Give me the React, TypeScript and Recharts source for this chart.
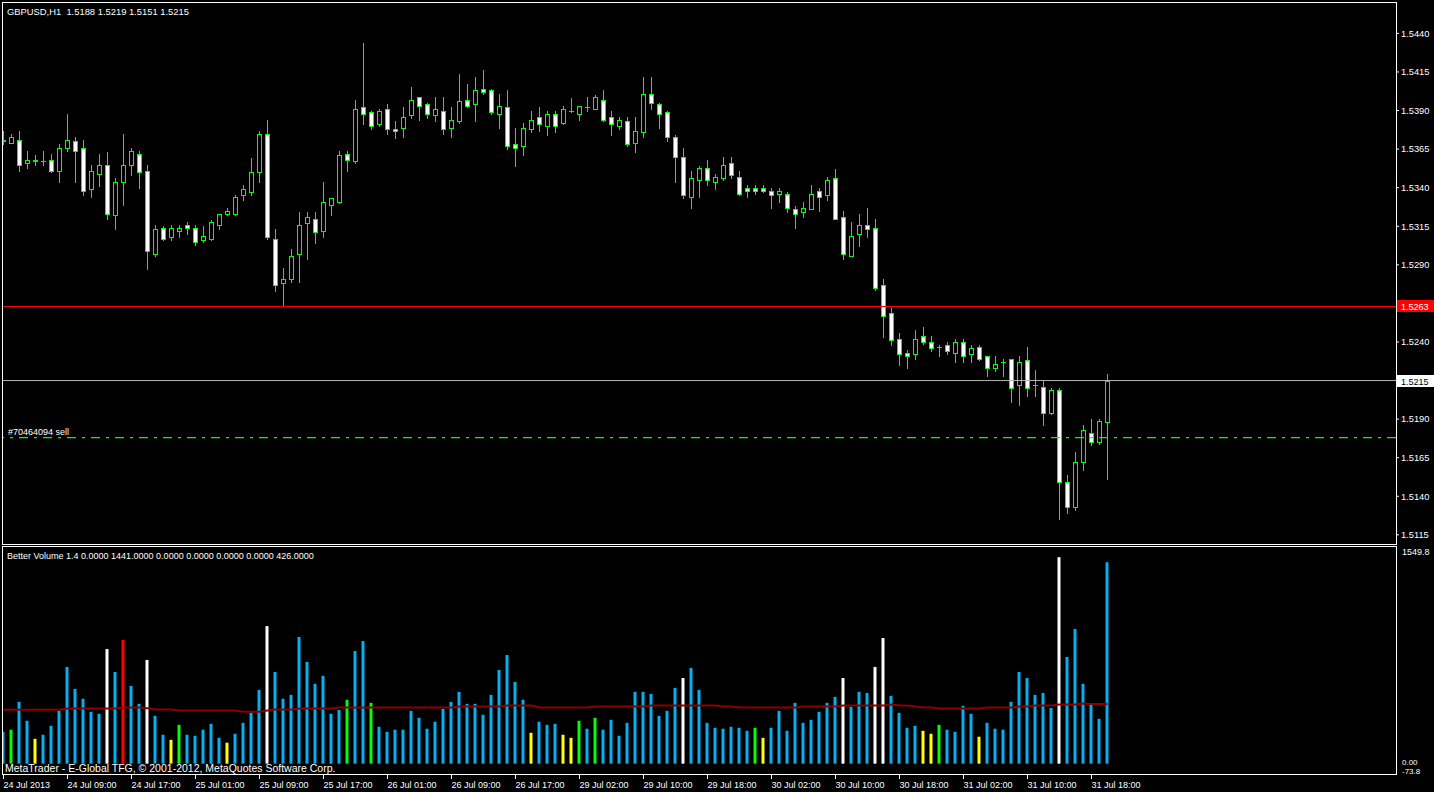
import React from 'react';
import { ComposedChart, Bar, Line, XAxis, YAxis, ReferenceLine, Cell } from 'recharts';

// ---------- DATA ----------
const opens = [
  1.5371, 1.5369, 1.5371, 1.5356, 1.5358, 1.5357, 1.5358, 1.5351, 1.5366, 1.5370,
  1.5366, 1.5339, 1.5349, 1.5355, 1.5322, 1.5344, 1.5355, 1.5362, 1.5351, 1.5297,
  1.5314, 1.5308, 1.5312, 1.5316, 1.5314, 1.5306, 1.5307, 1.5316, 1.5323, 1.5323,
  1.5335, 1.5337, 1.5350, 1.5375, 1.5307, 1.5278, 1.5281, 1.5297, 1.5317, 1.5320,
  1.5312, 1.5329, 1.5331, 1.5362, 1.5357, 1.5392, 1.5389, 1.5381, 1.5391, 1.5378,
  1.5379, 1.5387, 1.5399, 1.5394, 1.5387, 1.5390, 1.5379, 1.5383, 1.5397, 1.5394,
  1.5404, 1.5403, 1.5388, 1.5392, 1.5368, 1.5367, 1.5378, 1.5386, 1.5380, 1.5388,
  1.5382, 1.5390, 1.5388, 1.5392, 1.5391, 1.5397, 1.5386, 1.5380, 1.5383, 1.5369,
  1.5376, 1.5401, 1.5394, 1.5389, 1.5373, 1.5360, 1.5334, 1.5345, 1.5353, 1.5344,
  1.5346, 1.5356, 1.5347, 1.5340, 1.5340, 1.5340, 1.5338, 1.5336, 1.5336, 1.5326,
  1.5324, 1.5326, 1.5338, 1.5335, 1.5346, 1.5321, 1.5296, 1.5310, 1.5316, 1.5314,
  1.5277, 1.5259, 1.5242, 1.5233, 1.5232, 1.5244, 1.5240, 1.5237, 1.5238, 1.5233,
  1.5240, 1.5232, 1.5237, 1.5231, 1.5223, 1.5227, 1.5229, 1.5212, 1.5228, 1.5212,
  1.5211, 1.5194, 1.5209, 1.5149, 1.5133, 1.5162, 1.5181, 1.5175, 1.5188,
];
const highs = [
  1.5377, 1.5375, 1.5377, 1.5364, 1.5361, 1.5364, 1.5362, 1.5368, 1.5388, 1.5373,
  1.5371, 1.5355, 1.5362, 1.5363, 1.5346, 1.5375, 1.5366, 1.5364, 1.5355, 1.5316,
  1.5315, 1.5316, 1.5316, 1.5318, 1.5316, 1.5315, 1.5319, 1.5323, 1.5327, 1.5335,
  1.5342, 1.5359, 1.5377, 1.5384, 1.5313, 1.5288, 1.5300, 1.5324, 1.5324, 1.5324,
  1.5344, 1.5333, 1.5364, 1.5364, 1.5397, 1.5434, 1.5390, 1.5391, 1.5394, 1.5383,
  1.5392, 1.5405, 1.5399, 1.5395, 1.5399, 1.5399, 1.5392, 1.5414, 1.5407, 1.5412,
  1.5416, 1.5404, 1.5401, 1.5403, 1.5379, 1.5382, 1.5390, 1.5392, 1.5390, 1.5390,
  1.5393, 1.5398, 1.5393, 1.5399, 1.5400, 1.5403, 1.5390, 1.5386, 1.5386, 1.5386,
  1.5412, 1.5412, 1.5395, 1.5390, 1.5374, 1.5366, 1.5351, 1.5354, 1.5358, 1.5349,
  1.5360, 1.5360, 1.5351, 1.5342, 1.5342, 1.5342, 1.5340, 1.5340, 1.5337, 1.5328,
  1.5331, 1.5342, 1.5340, 1.5347, 1.5352, 1.5325, 1.5318, 1.5323, 1.5327, 1.5320,
  1.5281, 1.5262, 1.5246, 1.5235, 1.5248, 1.5250, 1.5244, 1.5238, 1.5240, 1.5242,
  1.5242, 1.5238, 1.5238, 1.5231, 1.5231, 1.5229, 1.5229, 1.5231, 1.5237, 1.5222,
  1.5215, 1.5210, 1.5210, 1.5154, 1.5169, 1.5186, 1.5190, 1.5190, 1.5219,
];
const lows = [
  1.5368, 1.5369, 1.5351, 1.5353, 1.5355, 1.5355, 1.5350, 1.5344, 1.5364, 1.5344,
  1.5335, 1.5334, 1.5341, 1.5320, 1.5313, 1.5329, 1.5348, 1.5340, 1.5287, 1.5296,
  1.5306, 1.5306, 1.5308, 1.5310, 1.5303, 1.5305, 1.5306, 1.5313, 1.5322, 1.5322,
  1.5332, 1.5335, 1.5344, 1.5307, 1.5273, 1.5263, 1.5279, 1.5279, 1.5294, 1.5304,
  1.5308, 1.5322, 1.5330, 1.5351, 1.5356, 1.5381, 1.5378, 1.5380, 1.5375, 1.5372,
  1.5373, 1.5385, 1.5384, 1.5385, 1.5383, 1.5375, 1.5373, 1.5382, 1.5392, 1.5383,
  1.5401, 1.5388, 1.5379, 1.5365, 1.5354, 1.5361, 1.5376, 1.5377, 1.5374, 1.5376,
  1.5381, 1.5389, 1.5384, 1.5390, 1.5391, 1.5383, 1.5374, 1.5378, 1.5367, 1.5363,
  1.5373, 1.5391, 1.5379, 1.5370, 1.5344, 1.5333, 1.5327, 1.5334, 1.5342, 1.5339,
  1.5345, 1.5346, 1.5335, 1.5334, 1.5336, 1.5337, 1.5327, 1.5331, 1.5324, 1.5314,
  1.5321, 1.5326, 1.5325, 1.5332, 1.5320, 1.5294, 1.5296, 1.5302, 1.5308, 1.5274,
  1.5243, 1.5238, 1.5225, 1.5223, 1.5229, 1.5239, 1.5234, 1.5231, 1.5232, 1.5227,
  1.5227, 1.5227, 1.5228, 1.5218, 1.5221, 1.5218, 1.5201, 1.5199, 1.5205, 1.5205,
  1.5186, 1.5193, 1.5125, 1.5129, 1.5131, 1.5157, 1.5173, 1.5174, 1.5151,
];
const closes = [
  1.5370, 1.5373, 1.5355, 1.5358, 1.5357, 1.5357, 1.5351, 1.5366, 1.5371, 1.5364,
  1.5338, 1.5351, 1.5355, 1.5323, 1.5344, 1.5355, 1.5364, 1.5350, 1.5299, 1.5313,
  1.5307, 1.5314, 1.5314, 1.5314, 1.5305, 1.5309, 1.5318, 1.5323, 1.5325, 1.5334,
  1.5339, 1.5350, 1.5375, 1.5308, 1.5277, 1.5281, 1.5296, 1.5316, 1.5321, 1.5311,
  1.5331, 1.5333, 1.5361, 1.5358, 1.5391, 1.5388, 1.5380, 1.5390, 1.5378, 1.5377,
  1.5386, 1.5397, 1.5393, 1.5388, 1.5391, 1.5378, 1.5384, 1.5396, 1.5393, 1.5403,
  1.5402, 1.5389, 1.5393, 1.5367, 1.5366, 1.5379, 1.5384, 1.5381, 1.5388, 1.5380,
  1.5391, 1.5390, 1.5393, 1.5392, 1.5399, 1.5384, 1.5381, 1.5384, 1.5368, 1.5377,
  1.5401, 1.5395, 1.5388, 1.5373, 1.5360, 1.5335, 1.5346, 1.5353, 1.5345, 1.5347,
  1.5355, 1.5348, 1.5336, 1.5338, 1.5338, 1.5338, 1.5335, 1.5338, 1.5327, 1.5323,
  1.5327, 1.5336, 1.5334, 1.5345, 1.5320, 1.5297, 1.5309, 1.5316, 1.5313, 1.5275,
  1.5257, 1.5241, 1.5232, 1.5231, 1.5242, 1.5240, 1.5236, 1.5237, 1.5234, 1.5240,
  1.5231, 1.5236, 1.5229, 1.5223, 1.5226, 1.5227, 1.5210, 1.5227, 1.5210, 1.5212,
  1.5194, 1.5209, 1.5149, 1.5133, 1.5162, 1.5183, 1.5175, 1.5189, 1.5215,
];
const volumes = [
  228, 243, 442, 307, 178, 207, 271, 378, 692, 535,
  464, 371, 357, 820, 656, 885, 556, 428, 742, 342,
  207, 171, 278, 207, 200, 243, 285, 185, 150, 214,
  292, 364, 528, 984, 656, 464, 492, 906, 728, 571,
  628, 357, 385, 457, 806, 877, 435, 264, 228, 243,
  243, 378, 328, 250, 300, 392, 442, 514, 428, 428,
  350, 492, 670, 777, 585, 457, 221, 300, 278, 285,
  207, 185, 307, 250, 328, 243, 314, 200, 292, 514,
  514, 499, 342, 378, 542, 613, 685, 528, 292, 257,
  250, 264, 257, 235, 257, 185, 257, 378, 235, 435,
  292, 314, 371, 435, 478, 613, 407, 514, 506, 692,
  899, 485, 364, 257, 271, 235, 214, 278, 243, 228,
  414, 357, 193, 292, 250, 243, 442, 656, 613, 492,
  506, 399, 1477, 763, 963, 571, 428, 321, 1441,
];
// n = neutral, l = low volume, c = churn, u = climax up, d = climax down
const volumeKinds = [
  'n', 'c', 'n', 'n', 'l', 'n', 'n', 'n', 'n', 'n',
  'n', 'n', 'n', 'd', 'n', 'u', 'n', 'n', 'd', 'n',
  'n', 'l', 'c', 'n', 'n', 'n', 'n', 'n', 'l', 'n',
  'n', 'n', 'n', 'd', 'n', 'n', 'n', 'n', 'n', 'n',
  'n', 'n', 'n', 'c', 'n', 'n', 'c', 'n', 'n', 'n',
  'n', 'n', 'n', 'n', 'n', 'n', 'n', 'n', 'n', 'n',
  'n', 'n', 'n', 'n', 'n', 'n', 'l', 'n', 'n', 'n',
  'l', 'l', 'c', 'n', 'c', 'n', 'n', 'n', 'n', 'n',
  'n', 'n', 'n', 'n', 'n', 'd', 'n', 'n', 'n', 'n',
  'n', 'n', 'n', 'n', 'c', 'l', 'n', 'n', 'n', 'n',
  'n', 'n', 'n', 'n', 'n', 'd', 'n', 'n', 'n', 'd',
  'd', 'n', 'n', 'n', 'n', 'l', 'l', 'c', 'n', 'n',
  'n', 'n', 'l', 'n', 'n', 'n', 'n', 'n', 'n', 'n',
  'n', 'n', 'd', 'n', 'n', 'n', 'n', 'n', 'n',
];
const volumeMA = [
  385, 385, 385, 385, 385, 385, 385, 385, 394, 394,
  394, 394, 394, 394, 394, 402, 402, 402, 397, 387,
  387, 387, 380, 380, 380, 380, 380, 380, 380, 380,
  371, 371, 371, 380, 387, 387, 387, 394, 394, 394,
  394, 394, 402, 402, 402, 402, 402, 402, 402, 402,
  402, 402, 402, 402, 402, 402, 402, 409, 409, 409,
  409, 409, 409, 416, 416, 416, 416, 402, 402, 402,
  402, 402, 402, 402, 409, 409, 409, 409, 409, 409,
  409, 416, 416, 416, 416, 416, 416, 416, 416, 416,
  409, 409, 402, 402, 402, 402, 402, 402, 402, 402,
  409, 409, 409, 409, 409, 416, 416, 416, 416, 416,
  416, 423, 416, 416, 409, 402, 402, 394, 394, 394,
  394, 394, 394, 402, 402, 402, 402, 409, 409, 416,
  416, 416, 423, 423, 423, 430, 426, 426, 426,
];
const timeTickIndex = [0, 8, 16, 24, 32, 40, 48, 56, 64, 72, 80, 88, 96, 104, 112, 120, 128, 136];
const timeTickLabels = [
  '24 Jul 2013', '24 Jul 09:00', '24 Jul 17:00', '25 Jul 01:00', '25 Jul 09:00', '25 Jul 17:00',
  '26 Jul 01:00', '26 Jul 09:00', '26 Jul 17:00', '29 Jul 02:00', '29 Jul 10:00', '29 Jul 18:00',
  '30 Jul 02:00', '30 Jul 10:00', '30 Jul 18:00', '31 Jul 02:00', '31 Jul 10:00', '31 Jul 18:00',
];
// 1.5265 and 1.5215 are covered by the level / bid price tags
const priceTicks = [1.5115, 1.514, 1.5165, 1.519, 1.524, 1.529, 1.5315, 1.534, 1.5365, 1.539, 1.5415, 1.544];
const volumeTicks = [1549.8, 0, -73.8];
const priceDomain = [1.51097, 1.54597];
const volumeDomain = [-73.8, 1549.8];
const slotDomain = [-0.0625, 174.0625];
const symbolTitle = 'GBPUSD,H1  1.5188 1.5219 1.5151 1.5215';
const indicatorTitle = 'Better Volume 1.4 0.0000 1441.0000 0.0000 0.0000 0.0000 0.0000 426.0000';
const copyright = 'MetaTrader - E-Global TFG, \u00A9 2001-2012, MetaQuotes Software Corp.';
const levelPrice = 1.5263;
const bidPrice = 1.5215;
const orderPrice = 1.5178;
const orderLabel = '#70464094 sell';

// ---------- STYLE ----------
const FONT = '"Liberation Sans", Arial, sans-serif';
const CANDLE_LINE = '#00ff00';
const kindColors: Record<string, string> = {
  n: '#00b0f0',
  l: '#ffff00',
  c: '#00ff00',
  u: '#ff0000',
  d: '#ffffff',
};

const rows = opens.map((open, i) => ({
  i,
  open,
  high: highs[i],
  low: lows[i],
  close: closes[i],
  range: [lows[i], highs[i]],
  vol: volumes[i],
  ma: volumeMA[i],
  kind: volumeKinds[i],
}));

function CandleShape(props: any) {
  const { x, y, width, height, payload } = props;
  if (!payload || x == null || y == null) return null;
  const { open, high, low, close } = payload;
  const cx = Math.floor(x + width / 2) + 0.5;
  const top = Math.min(y, y + height);
  const span = Math.abs(height);
  const k = high === low ? 0 : span / (high - low);
  const yO = top + (high - open) * k;
  const yC = top + (high - close) * k;
  const b1 = Math.round(Math.min(yO, yC)) + 0.5;
  const b2 = Math.round(Math.max(yO, yC)) + 0.5;
  const bear = close < open;
  return (
    <g>
      <line x1={cx} x2={cx} y1={Math.round(top)} y2={Math.round(top + span) + 1} stroke={CANDLE_LINE} strokeWidth={1} />
      {b2 - b1 < 1 ? (
        <line x1={cx - 2.5} x2={cx + 2.5} y1={b1} y2={b1} stroke={CANDLE_LINE} strokeWidth={1} />
      ) : (
        <rect x={cx - 2} y={b1} width={4} height={b2 - b1} fill={bear ? '#ffffff' : '#000000'} stroke={CANDLE_LINE} strokeWidth={1} />
      )}
    </g>
  );
}

function PriceTag(props: any) {
  const vb = props.viewBox || {};
  const x = (vb.x || 0) + (vb.width || 0) + 1;
  const y = vb.y || 0;
  return (
    <g>
      <rect x={x} y={Math.round(y) - 6} width={37} height={12} fill={props.bg} />
      <text x={x + 4} y={Math.round(y) + 3.5} fill={props.fg} fontSize={9} fontFamily={FONT}>
        {props.text}
      </text>
    </g>
  );
}

function OrderTag(props: any) {
  const vb = props.viewBox || {};
  return (
    <text x={(vb.x || 0) + 5} y={(vb.y || 0) - 3} fill="#ffffff" fontSize={9} fontFamily={FONT}>
      {props.text}
    </text>
  );
}

function TimeTick(props: any) {
  const { x, y, payload } = props;
  const idx = timeTickIndex.indexOf(payload.value);
  const px = Math.floor(x) + 0.5;
  return (
    <g>
      <line x1={px} x2={px} y1={y + 1} y2={y + 5} stroke="#ffffff" strokeWidth={1} />
      <text x={px} y={y + 13.5} fill="#ffffff" fontSize={9} fontFamily={FONT} textAnchor="start">
        {idx >= 0 ? timeTickLabels[idx] : ''}
      </text>
    </g>
  );
}

function VolumeTick(props: any) {
  const { x, y, payload } = props;
  const v = payload.value;
  const isMax = v > 1000;
  const dy = isMax ? 8 : v === 0 ? 1 : 0;
  const txt = v === 0 ? '0.00' : v.toFixed(1);
  return (
    <text x={x + 1} y={y + dy} fill="#ffffff" fontSize={isMax ? 9 : 8} fontFamily={FONT} textAnchor="start">
      {txt}
    </text>
  );
}

export default function App() {
  return (
    <div style={{ position: 'absolute', left: 0, top: 0, width: 1434, height: 792, background: '#000', overflow: 'hidden' }}>
      <div style={{ position: 'absolute', left: 0, top: 0 }}>
        <ComposedChart width={1434} height={546} data={rows} margin={{ top: 3, right: 0, bottom: 3, left: 3 }}>
          <XAxis dataKey="i" type="number" domain={slotDomain} allowDataOverflow hide />
          <YAxis
            orientation="right"
            type="number"
            domain={priceDomain}
            allowDataOverflow
            ticks={priceTicks}
            interval={0}
            width={38}
            tickSize={3}
            tickMargin={2}
            axisLine={false}
            tickLine={{ stroke: '#ffffff' }}
            tick={{ fill: '#ffffff', fontSize: 9.3, fontFamily: FONT }}
            tickFormatter={(v: number) => v.toFixed(4)}
          />
          <ReferenceLine y={levelPrice} stroke="#ff0000" strokeWidth={1} label={<PriceTag text={levelPrice.toFixed(4)} bg="#ff0000" fg="#ffffff" />} />
          <ReferenceLine y={bidPrice} stroke="#b4b4b4" strokeWidth={1} label={<PriceTag text={bidPrice.toFixed(4)} bg="#ffffff" fg="#000000" />} />
          <ReferenceLine y={orderPrice} stroke="#00ff00" strokeWidth={1.2} strokeDasharray="9 6 3 6" label={<OrderTag text={orderLabel} />} />
          <Bar dataKey="range" barSize={5} shape={<CandleShape />} isAnimationActive={false} />
        </ComposedChart>
      </div>
      <div style={{ position: 'absolute', left: 0, top: 0 }}>
        <ComposedChart width={1434} height={792} data={rows} margin={{ top: 547, right: 0, bottom: 0, left: 3 }}>
          <XAxis
            dataKey="i"
            type="number"
            domain={slotDomain}
            allowDataOverflow
            ticks={timeTickIndex}
            interval={0}
            height={18}
            tickSize={0}
            tickMargin={0}
            axisLine={false}
            tickLine={false}
            tick={<TimeTick />}
          />
          <YAxis
            orientation="right"
            type="number"
            domain={volumeDomain}
            allowDataOverflow
            ticks={volumeTicks}
            interval={0}
            width={38}
            tickSize={3}
            tickMargin={2}
            axisLine={false}
            tickLine={false}
            tick={<VolumeTick />}
          />
          <Bar dataKey="vol" barSize={3} isAnimationActive={false}>
            {rows.map((r) => (
              <Cell key={r.i} fill={kindColors[r.kind]} />
            ))}
          </Bar>
          <Line dataKey="ma" type="linear" stroke="#8c0000" strokeWidth={2} dot={false} isAnimationActive={false} />
        </ComposedChart>
      </div>
      <svg width={1434} height={792} style={{ position: 'absolute', left: 0, top: 0, pointerEvents: 'none' }}>
        <rect x={2.5} y={2.5} width={1394} height={542} fill="none" stroke="#ffffff" strokeWidth={1} />
        <rect x={2.5} y={546.5} width={1394} height={228} fill="none" stroke="#ffffff" strokeWidth={1} />
        <text x={7} y={14.5} fill="#ffffff" fontSize={9.4} fontFamily={FONT} style={{ whiteSpace: 'pre' }}>{symbolTitle}</text>
        <text x={7} y={558.5} fill="#ffffff" fontSize={9} fontFamily={FONT}>{indicatorTitle}</text>
        <text x={5} y={771.5} fill="#ffffff" fontSize={10.5} fontFamily={FONT}>{copyright}</text>
      </svg>
    </div>
  );
}
